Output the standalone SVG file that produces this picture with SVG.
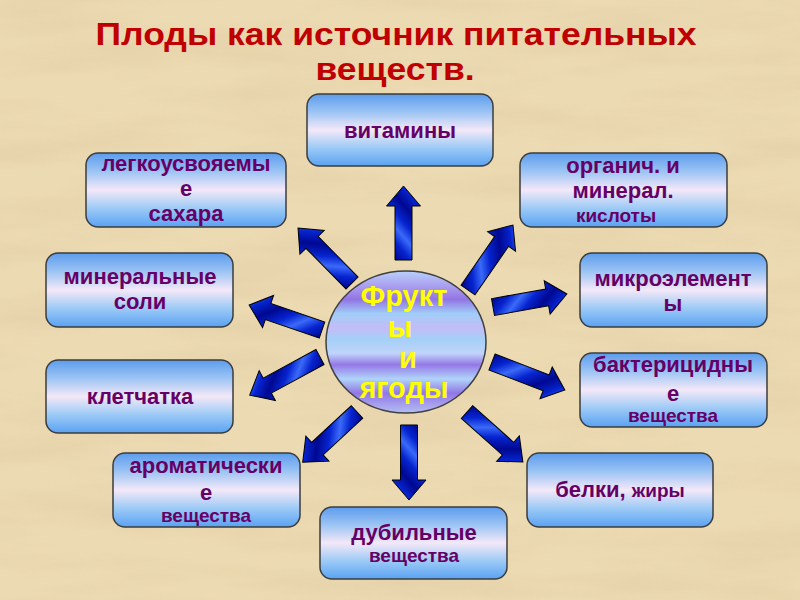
<svg xmlns="http://www.w3.org/2000/svg" width="800" height="600" viewBox="0 0 800 600">
<defs>
<style>
.box{fill:url(#boxg);stroke:#3c3c3c;stroke-width:1.5}
.bt{font-family:"Liberation Sans",Arial,sans-serif;font-weight:bold;font-size:22px;fill:#660066;text-anchor:middle}
.sm{font-size:19px}
.arr{fill:url(#arrg);stroke:#000;stroke-width:1}
.ct{font-family:"Liberation Sans",Arial,sans-serif;font-weight:bold;font-size:29px;fill:#ffff00;text-anchor:middle}
.title{font-family:"Liberation Sans",Arial,sans-serif;font-weight:bold;font-size:32px;fill:#c00000;text-anchor:middle}
</style>
<linearGradient id="boxg" x1="0" y1="0" x2="0" y2="1">
<stop offset="0" stop-color="#5c9cec"/>
<stop offset="0.25" stop-color="#9cc4f4"/>
<stop offset="0.5" stop-color="#f4e8f8"/>
<stop offset="0.75" stop-color="#9ccaf6"/>
<stop offset="1" stop-color="#5aa2f2"/>
</linearGradient>
<linearGradient id="arrg" gradientUnits="userSpaceOnUse" x1="0" y1="-8" x2="14" y2="8" spreadMethod="reflect">
<stop offset="0" stop-color="#000890"/>
<stop offset="0.55" stop-color="#0624d0"/>
<stop offset="1" stop-color="#3a6af8"/>
</linearGradient>
<linearGradient id="ellg" x1="0" y1="0" x2="0" y2="1">
<stop offset="0" stop-color="#b8d0fa"/>
<stop offset="0.12" stop-color="#a898ee"/>
<stop offset="0.2" stop-color="#9274e4"/>
<stop offset="0.3" stop-color="#a0cef8"/>
<stop offset="0.4" stop-color="#c4bcf6"/>
<stop offset="0.48" stop-color="#a4d0f8"/>
<stop offset="0.58" stop-color="#c0d4fa"/>
<stop offset="0.66" stop-color="#9478e6"/>
<stop offset="0.76" stop-color="#b0d4fa"/>
<stop offset="0.86" stop-color="#9276e6"/>
<stop offset="1" stop-color="#b4bef2"/>
</linearGradient>
<filter id="tex" x="0" y="0" width="100%" height="100%">
<feTurbulence type="fractalNoise" baseFrequency="0.006 0.03" numOctaves="4" seed="11"/>
<feColorMatrix type="matrix" values="0 0 0 0 0.76  0 0 0 0 0.62  0 0 0 0 0.38  1.8 0 0 0 -0.7"/>
</filter>
</defs>
<rect width="800" height="600" fill="#ecdab2"/>
<rect width="800" height="600" filter="url(#tex)" opacity="0.7"/>

<g id="title" transform="scale(1.11,1)">
<text class="title" x="356.8" y="45">Плоды как источник питательных</text>
<text class="title" x="355.9" y="80">веществ.</text>
</g>

<g id="connectors">
<path class="arr" transform="translate(403.5,260) rotate(-90)" d="M0,-8.5 H54 V-17 L74,0 L54,17 V8.5 H0 Z"/>
<path class="arr" transform="translate(352,283) rotate(-134.5)" d="M0,-8.5 H57 V-17 L77,0 L57,17 V8.5 H0 Z"/>
<path class="arr" transform="translate(468,290) rotate(-55.3)" d="M0,-8.5 H59 V-17 L79,0 L59,17 V8.5 H0 Z"/>
<path class="arr" transform="translate(493,307) rotate(-10)" d="M0,-8.5 H55 V-17 L75,0 L55,17 V8.5 H0 Z"/>
<path class="arr" transform="translate(322,330) rotate(-161.1)" d="M0,-8.5 H57 V-17 L77,0 L57,17 V8.5 H0 Z"/>
<path class="arr" transform="translate(320,357) rotate(151.5)" d="M0,-8.5 H60 V-17 L80,0 L60,17 V8.5 H0 Z"/>
<path class="arr" transform="translate(357,412) rotate(137.2)" d="M0,-8.5 H54 V-17 L74,0 L54,17 V8.5 H0 Z"/>
<path class="arr" transform="translate(409,425) rotate(90)" d="M0,-8.5 H55 V-17 L75,0 L55,17 V8.5 H0 Z"/>
<path class="arr" transform="translate(467,412) rotate(41.8)" d="M0,-8.5 H55 V-17 L75,0 L55,17 V8.5 H0 Z"/>
<path class="arr" transform="translate(492,362) rotate(21)" d="M0,-8.5 H58 V-17 L78,0 L58,17 V8.5 H0 Z"/>
</g>

<g id="center">
<ellipse cx="406" cy="342" rx="80" ry="71" fill="url(#ellg)" stroke="#404040" stroke-width="1.5"/>
<text class="ct" x="404" y="306">Фрукт</text>
<text class="ct" x="400" y="337">ы</text>
<text class="ct" x="408" y="368">и</text>
<text class="ct" x="404" y="398">ягоды</text>
</g>

<g id="n-vitaminy">
<rect class="box" x="307" y="94" width="186" height="72" rx="12"/>
<text class="bt" x="400" y="138">витамины</text>
</g>
<g id="n-sahara">
<rect class="box" x="86" y="153" width="200" height="74" rx="12"/>
<text class="bt" x="186" y="171">легкоусвояемы</text>
<text class="bt" x="186" y="196">е</text>
<text class="bt" x="186" y="221">сахара</text>
</g>
<g id="n-kisloty">
<rect class="box" x="520" y="153" width="207" height="74" rx="12"/>
<text class="bt" x="623" y="173">органич. и</text>
<text class="bt" x="623" y="198">минерал.</text>
<text class="bt sm" x="616" y="222">кислоты</text>
</g>
<g id="n-soli">
<rect class="box" x="46" y="253" width="187" height="74" rx="12"/>
<text class="bt" x="140" y="284">минеральные</text>
<text class="bt" x="140" y="309">соли</text>
</g>
<g id="n-mikro">
<rect class="box" x="580" y="253" width="187" height="74" rx="12"/>
<text class="bt" x="673" y="286">микроэлемент</text>
<text class="bt" x="673" y="311">ы</text>
</g>
<g id="n-kletchatka">
<rect class="box" x="46" y="360" width="187" height="73" rx="12"/>
<text class="bt" x="140" y="404">клетчатка</text>
</g>
<g id="n-bakter">
<rect class="box" x="580" y="353" width="187" height="74" rx="12"/>
<text class="bt" x="673" y="372">бактерицидны</text>
<text class="bt" x="673" y="401">е</text>
<text class="bt sm" x="673" y="422">вещества</text>
</g>
<g id="n-aromat">
<rect class="box" x="113" y="453" width="187" height="74" rx="12"/>
<text class="bt" x="206" y="473">ароматически</text>
<text class="bt" x="206" y="500">е</text>
<text class="bt sm" x="206" y="522">вещества</text>
</g>
<g id="n-belki">
<rect class="box" x="527" y="453" width="186" height="74" rx="12"/>
<text class="bt" x="620" y="497">белки, <tspan class="sm">жиры</tspan></text>
</g>
<g id="n-dubil">
<rect class="box" x="320" y="507" width="187" height="72" rx="12"/>
<text class="bt" x="414" y="540">дубильные</text>
<text class="bt sm" x="414" y="562">вещества</text>
</g>
</svg>
